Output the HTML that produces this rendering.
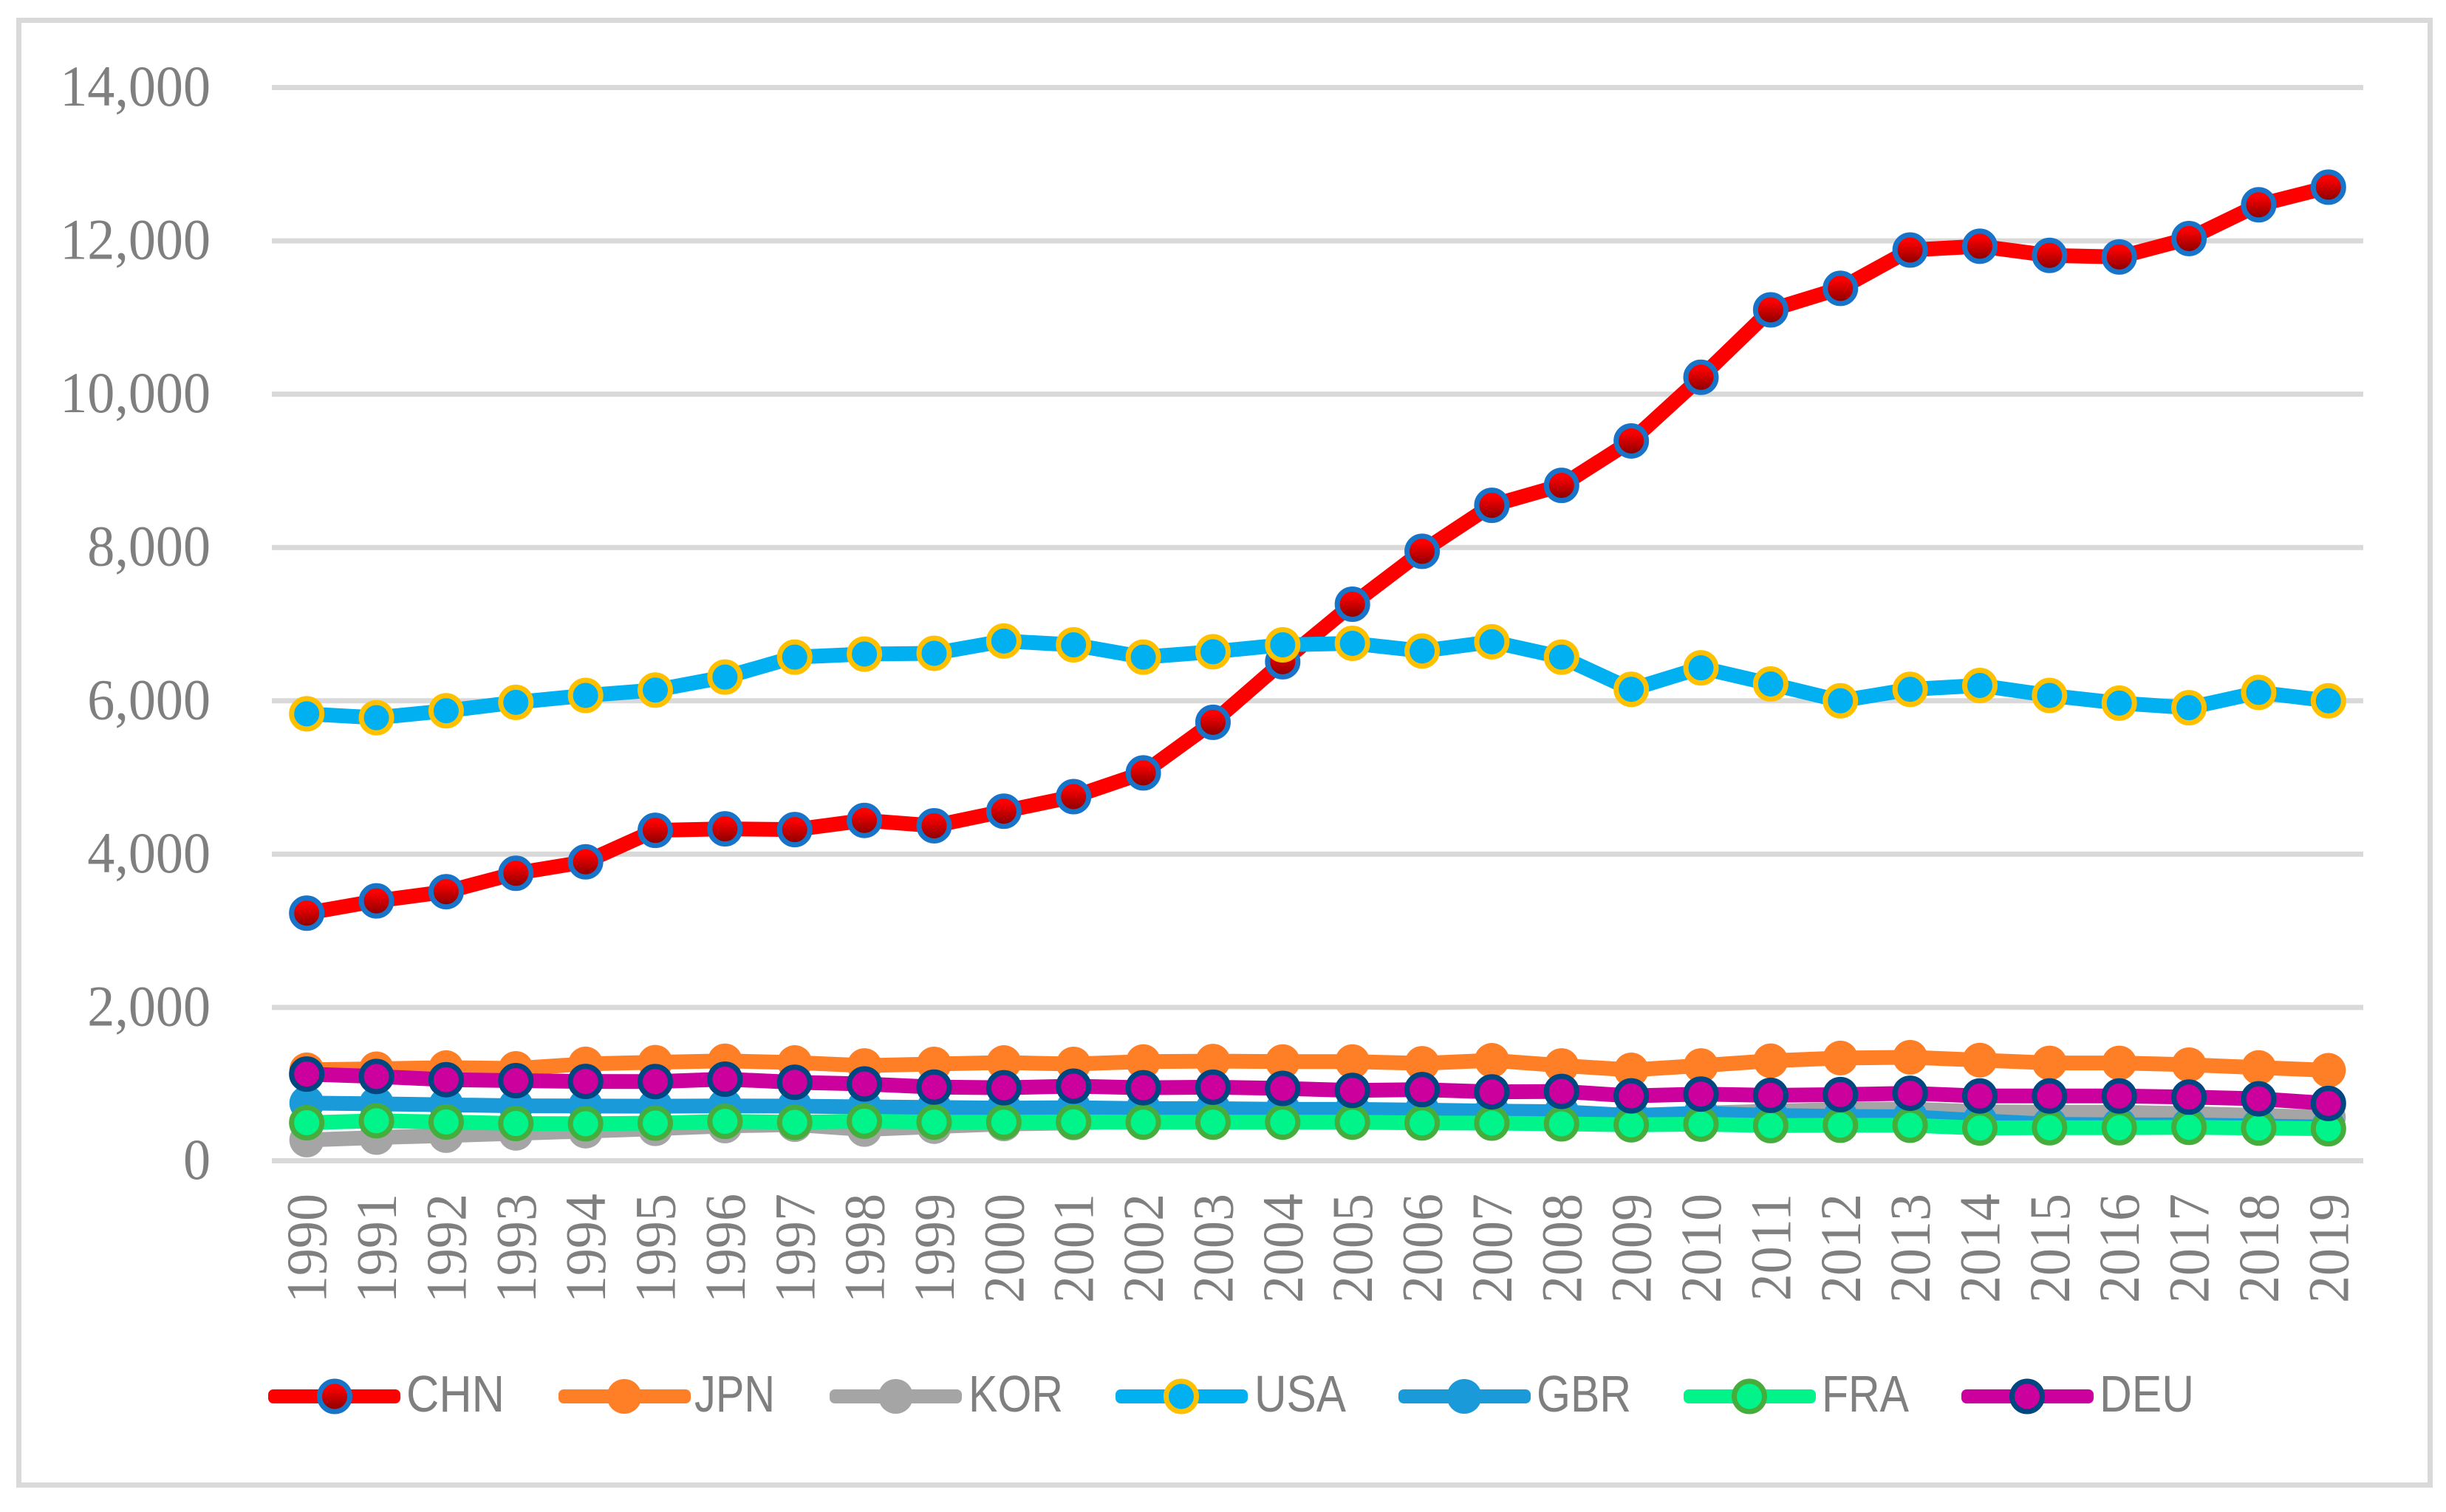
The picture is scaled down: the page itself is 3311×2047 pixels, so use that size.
<!DOCTYPE html>
<html lang="en">
<head>
<meta charset="utf-8">
<title>CHN, JPN, KOR, USA, GBR, FRA and DEU, 1990–2019</title>
<style>
  html, body { margin: 0; padding: 0; background: #ffffff; }
  svg { display: block; }
  .tick { font-family: "Liberation Serif", serif; font-size: 78px; fill: #7f7f7f; }
  .legend-text { font-family: "Liberation Sans", sans-serif; font-size: 70px; fill: #7f7f7f; }
</style>
</head>
<body>
<svg id="chart" xmlns="http://www.w3.org/2000/svg" width="3311" height="2047" viewBox="0 0 3311 2047">
  <defs>
    <linearGradient id="chn-fill" x1="0" y1="0" x2="0" y2="1">
      <stop offset="0.2" stop-color="#ff0000"/>
      <stop offset="1" stop-color="#800000"/>
    </linearGradient>
  </defs>
  <rect x="25.5" y="27.5" width="3264" height="1983" fill="#ffffff" stroke="#d9d9d9" stroke-width="7"/>
  <g id="grid"></g>
  <g id="y-axis"></g>
  <g id="x-axis"></g>
  <g id="series"></g>

  <g>
    <g>
      <rect x="363" y="1881" width="179" height="19" rx="7" fill="#ff0000"/>
      <circle cx="453" cy="1890.5" r="20.5" fill="url(#chn-fill)" stroke="#1874c8" stroke-width="7"/>
      <text class="legend-text" x="550" y="1911" textLength="133" lengthAdjust="spacingAndGlyphs">CHN</text>
    </g>
    <g>
      <rect x="756" y="1881" width="179" height="19" rx="7" fill="#ff7f27"/>
      <circle cx="845" cy="1890.5" r="23.5" fill="#ff7f27"/>
      <text class="legend-text" x="940" y="1911" textLength="109" lengthAdjust="spacingAndGlyphs">JPN</text>
    </g>
    <g>
      <rect x="1123" y="1881" width="179" height="19" rx="7" fill="#a5a5a5"/>
      <circle cx="1212.5" cy="1890.5" r="23.5" fill="#a5a5a5"/>
      <text class="legend-text" x="1311" y="1911" textLength="128" lengthAdjust="spacingAndGlyphs">KOR</text>
    </g>
    <g>
      <rect x="1510" y="1881" width="179" height="19" rx="7" fill="#00b0f0"/>
      <circle cx="1599" cy="1890.5" r="20.5" fill="#00b0f0" stroke="#ffc000" stroke-width="7"/>
      <text class="legend-text" x="1698" y="1911" textLength="124" lengthAdjust="spacingAndGlyphs">USA</text>
    </g>
    <g>
      <rect x="1893" y="1881" width="179" height="19" rx="7" fill="#1b9ad9"/>
      <circle cx="1982" cy="1890.5" r="23.5" fill="#1b9ad9"/>
      <text class="legend-text" x="2080" y="1911" textLength="128" lengthAdjust="spacingAndGlyphs">GBR</text>
    </g>
    <g>
      <rect x="2279" y="1881" width="179" height="19" rx="7" fill="#00f48a"/>
      <circle cx="2368" cy="1890.5" r="20.5" fill="#00f48a" stroke="#46ad3c" stroke-width="7"/>
      <text class="legend-text" x="2466" y="1911" textLength="118" lengthAdjust="spacingAndGlyphs">FRA</text>
    </g>
    <g>
      <rect x="2655" y="1881" width="179" height="19" rx="7" fill="#cc009c"/>
      <circle cx="2744" cy="1890.5" r="20.5" fill="#cc009c" stroke="#004680" stroke-width="7"/>
      <text class="legend-text" x="2842" y="1911" textLength="128" lengthAdjust="spacingAndGlyphs">DEU</text>
    </g>
  </g>
</svg>

<script>
const years = [1990,1991,1992,1993,1994,1995,1996,1997,1998,1999,2000,2001,2002,2003,2004,2005,2006,2007,2008,2009,2010,2011,2012,2013,2014,2015,2016,2017,2018,2019];
const yTicks = [0,2000,4000,6000,8000,10000,12000,14000];
const yTickLabels = ["0","2,000","4,000","6,000","8,000","10,000","12,000","14,000"];

const chn = [3230,3390,3510,3750,3900,4310,4330,4320,4440,4370,4560,4750,5060,5720,6510,7260,7950,8550,8810,9390,10220,11100,11380,11880,11930,11810,11790,12030,12470,12700];
const jpn = [1186,1200,1215,1205,1263,1285,1303,1281,1242,1262,1281,1262,1294,1300,1294,1294,1271,1310,1242,1185,1242,1304,1340,1350,1313,1276,1276,1253,1216,1180];
const kor = [271,303,329,358,387,418,454,472,408,446,480,494,520,540,560,570,580,590,580,585,622,647,670,675,638,633,633,615,592,565];
const usa = [5830,5780,5870,5980,6070,6140,6310,6570,6610,6620,6780,6730,6570,6640,6730,6750,6650,6770,6570,6150,6430,6220,6000,6150,6200,6070,5970,5910,6110,6000];
const gbr = [753,743,730,717,714,712,715,713,703,695,687,693,680,680,671,671,661,648,639,590,620,592,578,573,523,477,468,468,454,440];
const fra = [496,522,506,486,483,491,514,501,517,504,504,507,504,504,504,504,494,491,482,469,478,459,464,464,427,431,431,436,427,418];
const deu = [1131,1100,1058,1045,1035,1033,1065,1024,1002,961,953,973,953,960,944,918,928,899,905,847,870,854,863,881,845,845,845,831,808,748];

const SVGNS = "http://www.w3.org/2000/svg";
const plot = { left: 368, right: 3199, zeroY: 1571.5, topY: 118.5, maxValue: 14000 };

function xScale(index) {
  const band = (plot.right - plot.left) / years.length;
  return plot.left + band * (index + 0.5);
}
function yScale(value) {
  return plot.zeroY - (value / plot.maxValue) * (plot.zeroY - plot.topY);
}
function make(tag, attrs) {
  const el = document.createElementNS(SVGNS, tag);
  for (const k in attrs) el.setAttribute(k, attrs[k]);
  return el;
}

const gridLayer = document.getElementById("grid");
const yLayer = document.getElementById("y-axis");
yTicks.forEach(function (tick, i) {
  const y = yScale(tick);
  const line = make("line", { x1: plot.left, x2: plot.right, y1: y, y2: y, stroke: "#d9d9d9", "stroke-width": 7 });
  
  
  gridLayer.appendChild(line);
  const label = make("text", { class: "tick", "text-anchor": "end", transform: "translate(285," + (y + 24.5) + ") scale(0.95,1)" });
  
  
  label.textContent = yTickLabels[i];
  yLayer.appendChild(label);
});

const xLayer = document.getElementById("x-axis");
years.forEach(function (year, i) {
  const label = make("text", { class: "tick", "text-anchor": "end", transform: "translate(" + (xScale(i) + 26.5) + ",1616) rotate(-90) scale(0.95,1)" });
  
  
  label.textContent = year;
  xLayer.appendChild(label);
});

const seriesList = [
  { key: "chn", values: chn, line: "#ff0000", fill: "url(#chn-fill)", ring: "#1874c8" },
  { key: "jpn", values: jpn, line: "#ff7f27", fill: "#ff7f27", ring: null },
  { key: "kor", values: kor, line: "#a5a5a5", fill: "#a5a5a5", ring: null },
  { key: "usa", values: usa, line: "#00b0f0", fill: "#00b0f0", ring: "#ffc000" },
  { key: "gbr", values: gbr, line: "#1b9ad9", fill: "#1b9ad9", ring: null },
  { key: "fra", values: fra, line: "#00f48a", fill: "#00f48a", ring: "#46ad3c" },
  { key: "deu", values: deu, line: "#cc009c", fill: "#cc009c", ring: "#004680" }
];

const seriesLayer = document.getElementById("series");
seriesList.forEach(function (s) {
  const group = make("g", {});
  
  
  const points = s.values.map(function (v, i) { return xScale(i) + "," + yScale(v); }).join(" ");
  const path = make("polyline", { points: points, fill: "none", stroke: s.line, "stroke-width": 20, "stroke-linejoin": "round", "stroke-linecap": "round" });
  
  
  group.appendChild(path);
  s.values.forEach(function (v, i) {
    const dot = s.ring
      ? make("circle", { cx: xScale(i), cy: yScale(v), r: 20.5, fill: s.fill, stroke: s.ring, "stroke-width": 7 })
      : make("circle", { cx: xScale(i), cy: yScale(v), r: 23.5, fill: s.fill });
    
    
    group.appendChild(dot);
  });
  seriesLayer.appendChild(group);
});
</script>
</body>
</html>
